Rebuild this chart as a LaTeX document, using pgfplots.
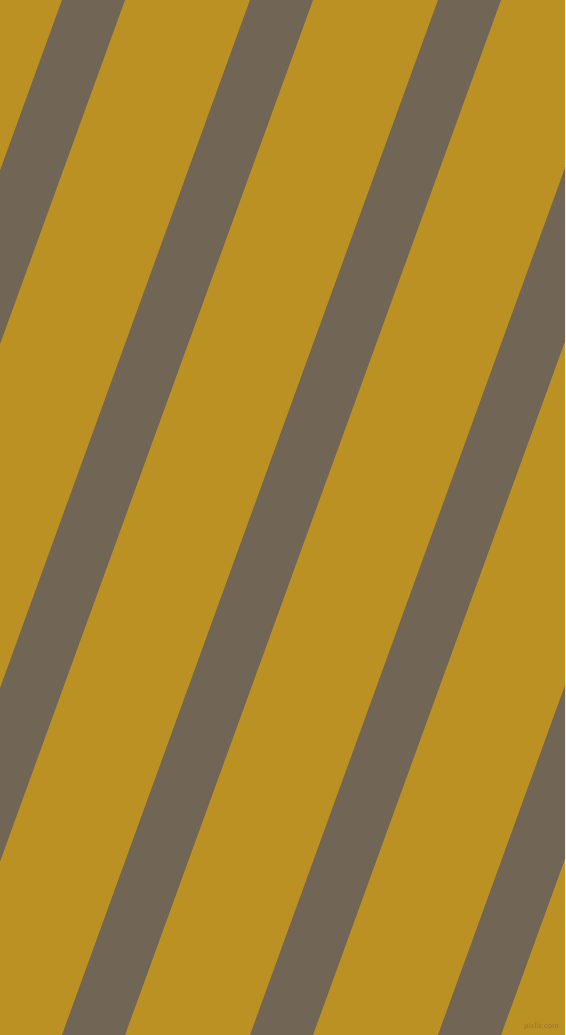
\documentclass[border=0pt]{standalone}
\usepackage{pgfplots}
\pgfplotsset{compat=1.18}
\definecolor{gold}{RGB}{188,145,36}
\definecolor{stripe}{RGB}{113,101,85}
\definecolor{mark}{RGB}{140,115,60}

\begin{document}
\begin{tikzpicture}
\begin{axis}[
    width=565pt, height=1035pt,
    scale only axis,
    xmin=0, xmax=565, ymin=0, ymax=1035,
    hide axis,
    clip=true,
    axis background/.style={fill=gold},
]
% each stripe: top edge x at y=1035, bottom edge x at y=0, 63 wide
\addplot[fill=stripe, draw=none] coordinates {(62,1035) (125,1035) (-251,0) (-314,0)} -- cycle;
\addplot[fill=stripe, draw=none] coordinates {(250,1035) (313,1035) (-63,0) (-126,0)} -- cycle;
\addplot[fill=stripe, draw=none] coordinates {(438,1035) (501,1035) (125,0) (62,0)} -- cycle;
\addplot[fill=stripe, draw=none] coordinates {(626,1035) (689,1035) (313,0) (250,0)} -- cycle;
\addplot[fill=stripe, draw=none] coordinates {(814,1035) (877,1035) (501,0) (438,0)} -- cycle;
\node[anchor=south east, font=\sffamily\fontsize{8}{8}\selectfont, text=mark, inner sep=0pt] at (axis cs:559,5) {pixlis.com};
\end{axis}
\end{tikzpicture}
\end{document}
